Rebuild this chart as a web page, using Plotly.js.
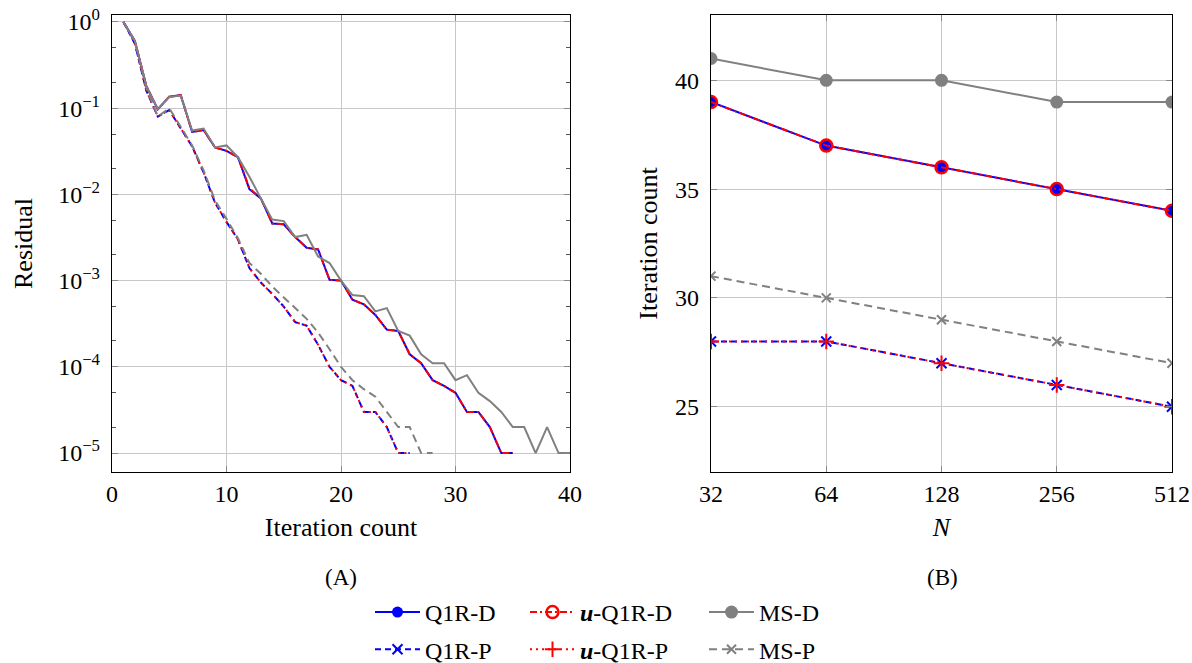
<!DOCTYPE html>
<html>
<head>
<meta charset="utf-8">
<script src="https://cdn.plot.ly/plotly-3.0.1.min.js"></script>
<style>html,body{margin:0;padding:0;background:#fff;overflow:hidden;width:1192px;height:663px;}#chart{width:1192px;height:680px;}</style>
</head>
<body>
<div id="chart"></div>
<script>
// ---- Panel A: residual history ----
const itD = [1,2,3,4,5,6,7,8,9,10,11,12,13,14,15,16,17,18,19,20,21,22,23,24,25,26,27,28,29,30,31,32,33,34,35];
const q1rD = [1.0,0.6,0.18,0.097,0.136,0.142,0.053,0.056,0.035,0.032,0.027,0.0115,0.009,0.0046,0.0045,0.0032,0.0024,0.0023,0.00102,0.001,0.0006,0.00053,0.0004,0.00027,0.00026,0.00014,0.00011,0.00007,0.00006,0.00005,0.00003,0.00003,0.00002,0.00001,0.00001];
const uq1rD = [1.0,0.6,0.18,0.097,0.136,0.142,0.053,0.056,0.035,0.032,0.027,0.0118,0.009,0.0046,0.0045,0.0032,0.0024,0.0023,0.00102,0.001,0.0006,0.00053,0.0004,0.00027,0.00026,0.00014,0.00011,0.00007,0.00006,0.00005,0.00003,0.00003,0.00002,0.00001,0.00001];
const itMSD = [1,2,3,4,5,6,7,8,9,10,11,12,13,14,15,16,17,18,19,20,21,22,23,24,25,26,27,28,29,30,31,32,33,34,35,36,37,38,39,40];
const msD = [1.0,0.6,0.18,0.098,0.135,0.14,0.055,0.058,0.035,0.037,0.027,0.016,0.009,0.0051,0.0049,0.0032,0.0034,0.0019,0.0016,0.001,0.00068,0.00066,0.00044,0.00048,0.00026,0.00023,0.00014,0.00011,0.00011,0.00007,0.00008,0.00005,0.00004,0.00003,0.00002,0.00002,0.00001,0.00002,0.00001,0.00001];
const itP = [1,2,3,4,5,6,7,8,9,10,11,12,13,14,15,16,17,18,19,20,21,22,23,24,25,26];
const q1rP = [1.0,0.56,0.16,0.08,0.095,0.058,0.036,0.018,0.008,0.0048,0.003,0.0014,0.00095,0.0007,0.0005,0.00033,0.0003,0.00018,0.0001,0.00007,0.00006,0.00003,0.00003,0.00002,0.00001,0.00001];
const uq1rP = [1.0,0.56,0.16,0.08,0.095,0.058,0.036,0.018,0.008,0.0048,0.003,0.0014,0.00095,0.0007,0.0005,0.00033,0.0003,0.00018,0.0001,0.00007,0.00006,0.00003,0.00003,0.00002,0.00001,0.00001];
const itMSP = [1,2,3,4,5,6,7,8,9,10,11,12,13,14,15,16,17,18,19,20,21,22,23,24,25,26,27,28];
const msP = [1.0,0.6,0.17,0.08,0.1,0.06,0.037,0.019,0.0085,0.0052,0.0031,0.0016,0.0012,0.00085,0.00063,0.00048,0.00036,0.00025,0.00016,0.0001,0.00007,0.000055,0.000045,0.00003,0.00002,0.00002,0.00001,0.00001];

// ---- Panel B: iteration counts vs N ----
const Nvals = [32,64,128,256,512];
const cQ1RD = [39,37,36,35,34];
const cUQ1RD = [39,37,36,35,34];
const cMSD = [41,40,40,39,39];
const cQ1RP = [28,28,27,26,25];
const cUQ1RP = [28,28,27,26,25];
const cMSP = [31,30,29,28,27];

const resTickVals = [1,0.1,0.01,0.001,0.0001,0.00001];
const resTickText = ['10<sup>0</sup>','10<sup>−1</sup>','10<sup>−2</sup>','10<sup>−3</sup>','10<sup>−4</sup>','10<sup>−5</sup>'];
const iterTicks = [0,10,20,30,40];
const countTicks = [25,30,35,40];

const BLUE = '#0000ff', RED = '#ff0000', GRAY = '#808080';
const FONT = "'Liberation Serif', 'DejaVu Serif', serif";

const dashQ1RP = '6px,4px';
const dashUD = '7px,3px,2px,3px';
const dotUP = '2px,4px';
const dashMSP = '8px,5px';

const traces = [
  // Panel A (no legend)
  {x: itD, y: q1rD, xaxis:'x', yaxis:'y', mode:'lines', line:{color:BLUE, width:2}, showlegend:false},
  {x: itD, y: uq1rD, xaxis:'x', yaxis:'y', mode:'lines', line:{color:RED, width:2, dash:dashUD}, showlegend:false},
  {x: itP, y: q1rP, xaxis:'x', yaxis:'y', mode:'lines', line:{color:BLUE, width:2, dash:dashQ1RP}, showlegend:false},
  {x: itP, y: uq1rP, xaxis:'x', yaxis:'y', mode:'lines', line:{color:RED, width:2, dash:dotUP}, showlegend:false},
  {x: itMSD, y: msD, xaxis:'x', yaxis:'y', mode:'lines', line:{color:GRAY, width:2}, showlegend:false},
  {x: itMSP, y: msP, xaxis:'x', yaxis:'y', mode:'lines', line:{color:GRAY, width:2, dash:dashMSP}, showlegend:false},
  // Panel B
  {x: Nvals, y: cMSD, xaxis:'x2', yaxis:'y2', mode:'lines+markers', name:'MS-D', legend:'legend3', legendgroup:'a',
   line:{color:GRAY, width:2}, marker:{symbol:'circle', size:13, color:GRAY}},
  {x: Nvals, y: cMSP, xaxis:'x2', yaxis:'y2', mode:'lines+markers', name:'MS-P', legend:'legend3', legendgroup:'b',
   line:{color:GRAY, width:2, dash:dashMSP}, marker:{symbol:'x-thin-open', size:9, color:GRAY, line:{width:2, color:GRAY}}},
  {x: Nvals, y: cQ1RD, xaxis:'x2', yaxis:'y2', mode:'lines+markers', name:'Q1R-D', legend:'legend', legendgroup:'a',
   line:{color:BLUE, width:2}, marker:{symbol:'circle', size:11, color:BLUE}},
  {x: Nvals, y: cUQ1RD, xaxis:'x2', yaxis:'y2', mode:'lines+markers', name:'<b><i>u</i></b>-Q1R-D', legend:'legend2', legendgroup:'a',
   line:{color:RED, width:2, dash:dashUD}, marker:{symbol:'circle-open', size:12, color:RED, line:{width:2.5, color:RED}}},
  {x: Nvals, y: cQ1RP, xaxis:'x2', yaxis:'y2', mode:'lines+markers', name:'Q1R-P', legend:'legend', legendgroup:'b',
   line:{color:BLUE, width:2, dash:dashQ1RP}, marker:{symbol:'x-thin-open', size:10, color:BLUE, line:{width:2, color:BLUE}}},
  {x: Nvals, y: cUQ1RP, xaxis:'x2', yaxis:'y2', mode:'lines+markers', name:'<b><i>u</i></b>-Q1R-P', legend:'legend2', legendgroup:'b',
   line:{color:RED, width:2, dash:dotUP}, marker:{symbol:'cross-thin-open', size:11, color:RED, line:{width:2, color:RED}}}
];

const W = 1192, H = 680;   // drawn slightly taller than the window; the bottom strip is clipped
const axBase = {
  showline:true, linecolor:'#000', linewidth:1.2, mirror:'ticks',
  ticks:'inside', ticklen:6, tickcolor:'#888', tickwidth:1,
  showgrid:true, gridcolor:'#c8c8c8', gridwidth:1, zeroline:false,
  automargin:false,
  tickfont:{family:FONT, size:24, color:'#000'}
};
const legBase = {orientation:'v', xanchor:'left', yanchor:'bottom', y:1-672/H, bgcolor:'rgba(0,0,0,0)',
  font:{family:FONT, size:24, color:'#000'}, itemwidth:45, traceorder:'grouped', tracegroupgap:3};

const layout = {
  width:W, height:H, margin:{l:0,r:0,t:0,b:0},
  paper_bgcolor:'#fff', plot_bgcolor:'#fff',
  font:{family:FONT, color:'#000'},
  xaxis: Object.assign({}, axBase, {domain:[112/W, 570/W], range:[0,40], tickvals:iterTicks, anchor:'y',
    title:{text:'Iteration count', font:{family:FONT, size:26}, standoff:11}}),
  yaxis: Object.assign({}, axBase, {domain:[1-472/H, 1-15/H], type:'log', range:[-5.22, 0.081], anchor:'x',
    tickvals:resTickVals, ticktext:resTickText, ticklabelstandoff:6,
    minor:{ticks:'inside', ticklen:4, tickcolor:'#555', showgrid:false},
    title:{text:'Residual', font:{family:FONT, size:26}, standoff:18}}),
  xaxis2: Object.assign({}, axBase, {domain:[711/W, 1172/W], type:'log', range:[Math.log10(32), Math.log10(512)], anchor:'y2',
    tickvals:Nvals, ticktext:Nvals.map(String),
    title:{text:'<i>N</i>', font:{family:FONT, size:26}, standoff:11}}),
  yaxis2: Object.assign({}, axBase, {domain:[1-472/H, 1-15/H], range:[22,43], anchor:'x2', tickvals:countTicks, ticklabelstandoff:6,
    title:{text:'Iteration count', font:{family:FONT, size:26}, standoff:10}}),
  legend: Object.assign({}, legBase, {x:370/W}),
  legend2: Object.assign({}, legBase, {x:525/W}),
  legend3: Object.assign({}, legBase, {x:704/W}),
  annotations:[
    {text:'(A)', xref:'paper', yref:'paper', x:341/W, y:1-577/H, xanchor:'center', yanchor:'middle', showarrow:false, font:{family:FONT, size:23, color:'#000'}},
    {text:'(B)', xref:'paper', yref:'paper', x:942/W, y:1-577/H, xanchor:'center', yanchor:'middle', showarrow:false, font:{family:FONT, size:23, color:'#000'}}
  ]
};

Plotly.newPlot('chart', traces, layout, {displayModeBar:false, staticPlot:true});
</script>
</body>
</html>
